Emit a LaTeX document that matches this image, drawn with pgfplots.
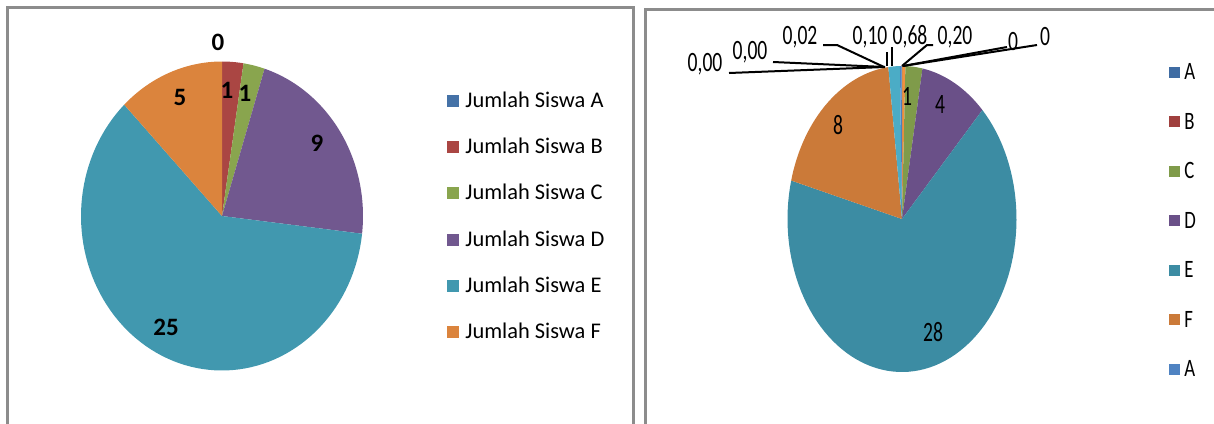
\documentclass[border=0pt]{standalone}
\usepackage{pgfplots}
\pgfplotsset{compat=1.18}
\usepackage{fontspec}
\setmainfont{Carlito}
\newfontfamily\rfont[FakeStretch=0.75]{Carlito}
\newfontfamily\lfont[FakeStretch=0.7]{Carlito}
% left palette
\definecolor{LA}{HTML}{4572A7}
\definecolor{LB}{HTML}{AA4643}
\definecolor{LC}{HTML}{89A54E}
\definecolor{LD}{HTML}{71588F}
\definecolor{LE}{HTML}{4198AF}
\definecolor{LF}{HTML}{DB843D}
% right palette
\definecolor{RA}{HTML}{3F6CA3}
\definecolor{RB}{HTML}{A0403E}
\definecolor{RC}{HTML}{7F9B4A}
\definecolor{RD}{HTML}{6A5088}
\definecolor{RE}{HTML}{3C8CA3}
\definecolor{RF}{HTML}{CB7A39}
\definecolor{RG}{HTML}{4F83C2}
\definecolor{RH}{HTML}{4BACC6}
\definecolor{RI}{HTML}{F09040}
\definecolor{frame}{HTML}{8C8C8C}

\newcommand\resetpie{\gdef\cum{0}}
\newcommand\slice[3]{% total, value, colour
  \pgfmathsetmacro\sa{90-\cum*360/#1}%
  \pgfmathsetmacro\sb{90-(\cum+#2)*360/#1}%
  \pgfmathsetmacro\nc{\cum+#2}\xdef\cum{\nc}%
  \edef\doit{\noexpand\addplot[fill=#3,draw=none,domain=\sa:\sb,samples=90,variable=\noexpand\t] ({cos(\noexpand\t)},{sin(\noexpand\t)}) -- (axis cs:0,0) -- cycle;}%
  \doit}

\begin{document}
\begin{tikzpicture}[x=0.5pt,y=-0.5pt]
\useasboundingbox (0,0) rectangle (1214,423);
% panel frames
\draw[frame, line width=1.5pt] (7.5,430) -- (7.5,7.5) -- (633,7.5) -- (633,430);
\draw[frame, line width=1.5pt] (645,430) -- (645,9.5) -- (1220,9.5);

% ---- left pie: A=0, B=1, C=1, D=9, E=25, F=5
\begin{axis}[at={(111pt,-108pt)}, anchor=origin, scale only axis,
  width=141pt, height=154.5pt, xmin=-1, xmax=1, ymin=-1, ymax=1,
  hide axis, clip=false]
\resetpie
\slice{41}{1}{LB}
\slice{41}{1}{LC}
\slice{41}{9}{LD}
\slice{41}{25}{LE}
\slice{41}{5}{LF}
\end{axis}

% ---- right pie
\begin{axis}[at={(451pt,-109.5pt)}, anchor=origin, scale only axis,
  width=114.5pt, height=153pt, xmin=-1, xmax=1, ymin=-1, ymax=1,
  hide axis, clip=false]
\resetpie
\slice{42}{0.20}{RI}
\slice{42}{1}{RC}
\slice{42}{4}{RD}
\slice{42}{28}{RE}
\slice{42}{8}{RF}
\slice{42}{0.68}{RH}
\slice{42}{0.10}{RG}
\slice{42}{0.02}{RA}
\end{axis}

% left data labels
\begin{scope}[every node/.style={anchor=base, inner sep=0pt, font=\bfseries\fontsize{12.5}{14}\selectfont}]
\node at (218,50) {0};
\node at (227,98) {1};
\node at (245,101) {1};
\node at (180,105) {5};
\node at (317,151) {9};
\node at (166,335) {25};
\end{scope}

% left legend
\foreach \c/\t [count=\i from 0] in {LA/A,LB/B,LC/C,LD/D,LE/E,LF/F}{
  \pgfmathsetmacro\yy{101+46.2*\i}
  \fill[\c] (447,\yy-6) rectangle (459,\yy+6);
  \node[anchor=base west, inner sep=0pt, font=\fontsize{11.2}{13}\selectfont] at (465,\yy+6.5) {Jumlah Siswa \t};
}

% right leader lines
\begin{scope}[line width=1pt]
\draw (729,73) -- (885,67);
\draw (773,62) -- (885,67);
\draw (823,45) -- (837,45) -- (884,67);
\draw (887,52) -- (887,66);
\draw (892,47) -- (892,66);
\draw (902,66) -- (927,45) -- (933,45);
\draw (903,66) -- (1007,47);
\draw (903,66) -- (1037,45);
\end{scope}

% right data labels
\begin{scope}[every node/.style={anchor=base, inner sep=0pt, font=\lfont\fontsize{14}{16}\selectfont}]
\node at (907,105) {1};
\node at (940,113) {4};
\node at (838,134) {8};
\node at (933,341) {28};
\node at (705,71) {0,00};
\node at (750,59) {0,00};
\node at (800,44) {0,02};
\node at (870,44) {0,10};
\node at (910,44) {0,68};
\node at (955,44) {0,20};
\node at (1013,50) {0};
\node at (1045,45.5) {0};
\end{scope}

% right legend
\foreach \c/\t [count=\i from 0] in {RA/A,RB/B,RC/C,RD/D,RE/E,RF/F,RG/A}{
  \pgfmathsetmacro\yy{72+49.5*\i}
  \fill[\c] (1169,\yy-5.5) rectangle (1180,\yy+5.5);
  \node[anchor=base west, inner sep=0pt, font=\rfont\fontsize{12.5}{14}\selectfont] at (1184,\yy+7.5) {\t};
}
\end{tikzpicture}
\end{document}
